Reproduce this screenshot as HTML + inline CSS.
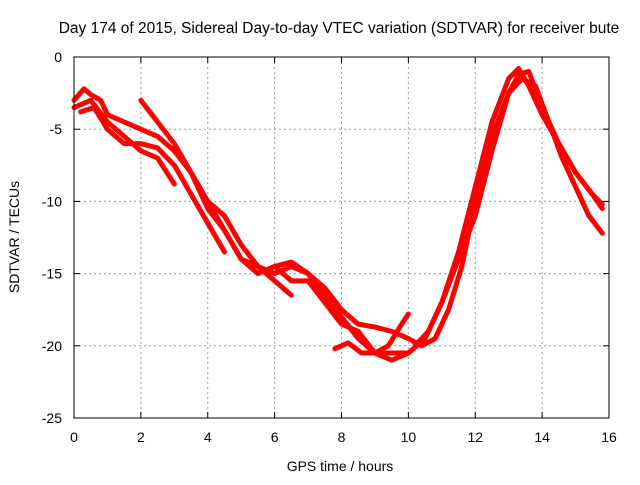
<!DOCTYPE html>
<html><head><meta charset="utf-8"><style>
body{margin:0;background:#fff}
svg text{font-family:"Liberation Sans",sans-serif;font-size:14px;fill:#000}
svg text.title{font-size:15.5px}
</style></head><body>
<svg id="chart" width="640" height="480">
<rect width="640" height="480" fill="#fff"/>
<text class="title" x="339" y="33" text-anchor="middle">Day 174 of 2015, Sidereal Day-to-day VTEC variation (SDTVAR) for receiver bute</text>
<g id="grid"></g><g id="axes"></g><g id="series"></g>
<rect x="74" y="57" width="535" height="361" fill="none" stroke="#000"/>
<text x="340" y="471" text-anchor="middle">GPS time / hours</text>
<text transform="translate(19,237) rotate(-90)" text-anchor="middle">SDTVAR / TECUs</text>
</svg>
<script>
const xTicks=[0,2,4,6,8,10,12,14,16];
const yTicks=[0,-5,-10,-15,-20,-25];
const track1X=[0,0.3,0.5,0.8,1,1.5,2,2.5,3,3.5,4,4.5,5,5.5,6,6.5,7,7.5,8,8.5,9,9.5,10];
const track1Y=[-3,-2.2,-2.6,-3,-4,-4.5,-5,-5.5,-6.5,-8,-10,-11,-13,-14.5,-15,-14.5,-15,-16.5,-18,-19.5,-20.5,-20.5,-20.5];
const track2X=[0,0.5,1,1.5,2,2.5,3];
const track2Y=[-3.5,-3,-4.5,-5.5,-6.5,-7,-8.8];
const track3X=[2,2.5,3,3.5,4,4.5,5,5.5,6,6.5,7,7.5,8,8.5,9,9.5,10,10.5,11,11.5,12,12.5,13,13.3,13.6,14,14.5,15,15.5,15.8];
const track3Y=[-3,-4.5,-6,-8,-10.5,-12,-14,-15,-14.5,-15.5,-15.5,-17,-18.5,-19,-20.5,-21,-20.5,-19.5,-17,-13.5,-9,-4.5,-1.5,-0.8,-2,-4,-6,-8,-9.5,-10.2];
const track4X=[0.2,0.6,1,1.5,2,2.5,3,3.5,4,4.5];
const track4Y=[-3.8,-3.5,-5,-6,-6,-6.3,-7.5,-9.5,-11.5,-13.5];
const track5X=[4,4.5,5,5.5,6,6.5];
const track5Y=[-10,-12,-14,-14.5,-15.5,-16.5];
const track6X=[7.8,8.2,8.6,9,9.4,9.8,10];
const track6Y=[-20.2,-19.8,-20.5,-20.5,-20,-18.5,-17.8];
const track7X=[6,6.5,7,7.5,8,8.5,9,9.5,10,10.4,10.8,11.2,11.6,12,12.5,13,13.4,13.8,14.2,14.6,15,15.4,15.8];
const track7Y=[-14.5,-14.2,-15,-16,-17.5,-18.5,-18.7,-19,-19.5,-20,-19.5,-17.5,-14.5,-10,-5.5,-2.5,-1.5,-2,-4.5,-7,-9,-11,-12.2];
const track8X=[10.2,10.6,11,11.5,12,12.5,13,13.3,13.6,14,14.5,15,15.5,15.8];
const track8Y=[-20,-19,-17,-14,-11,-6.5,-2.5,-1.2,-1,-3.5,-6,-8,-9.5,-10.5];
const tracks=[[track1X,track1Y],[track2X,track2Y],[track3X,track3Y],[track4X,track4Y],[track5X,track5Y],[track6X,track6Y],[track7X,track7Y],[track8X,track8Y]];
const NS='http://www.w3.org/2000/svg';
const xs=v=>74+(v-0)/16*535;
const ys=v=>57+(0-v)/25*361;
function mk(tag,attrs,parent){const e=document.createElementNS(NS,tag);for(const k in attrs)e.setAttribute(k,attrs[k]);parent.appendChild(e);return e;}
const grid=document.getElementById('grid'),axes=document.getElementById('axes'),ser=document.getElementById('series');
xTicks.forEach(t=>{const x=xs(t);
 if(t>0&&t<16){const g=mk('line',{x1:x,x2:x,y1:57,y2:418,stroke:'#999','stroke-dasharray':'2,3'},grid);
 
 }
 mk('line',{x1:x,x2:x,y1:418,y2:412,stroke:'#000'},axes);mk('line',{x1:x,x2:x,y1:57,y2:63,stroke:'#000'},axes);
 const l=mk('text',{x:x,y:442,'text-anchor':'middle'},axes);l.textContent=t;
 
 });
yTicks.forEach(t=>{const y=ys(t);
 if(t<0&&t>-25){const g=mk('line',{x1:74,x2:609,y1:y,y2:y,stroke:'#999','stroke-dasharray':'2,3'},grid);
 
 }
 mk('line',{x1:74,x2:80,y1:y,y2:y,stroke:'#000'},axes);mk('line',{x1:609,x2:603,y1:y,y2:y,stroke:'#000'},axes);
 const l=mk('text',{x:62,y:y+5,'text-anchor':'end'},axes);l.textContent=t;
 
 });
tracks.forEach((tr,i)=>{const pts=tr[0].map((x,j)=>xs(x)+','+ys(tr[1][j])).join(' ');
 const p=mk('polyline',{points:pts,fill:'none',stroke:'#f00','stroke-width':5,'stroke-linejoin':'round','stroke-linecap':'round'},ser);
 
 });
</script>
</body></html>
